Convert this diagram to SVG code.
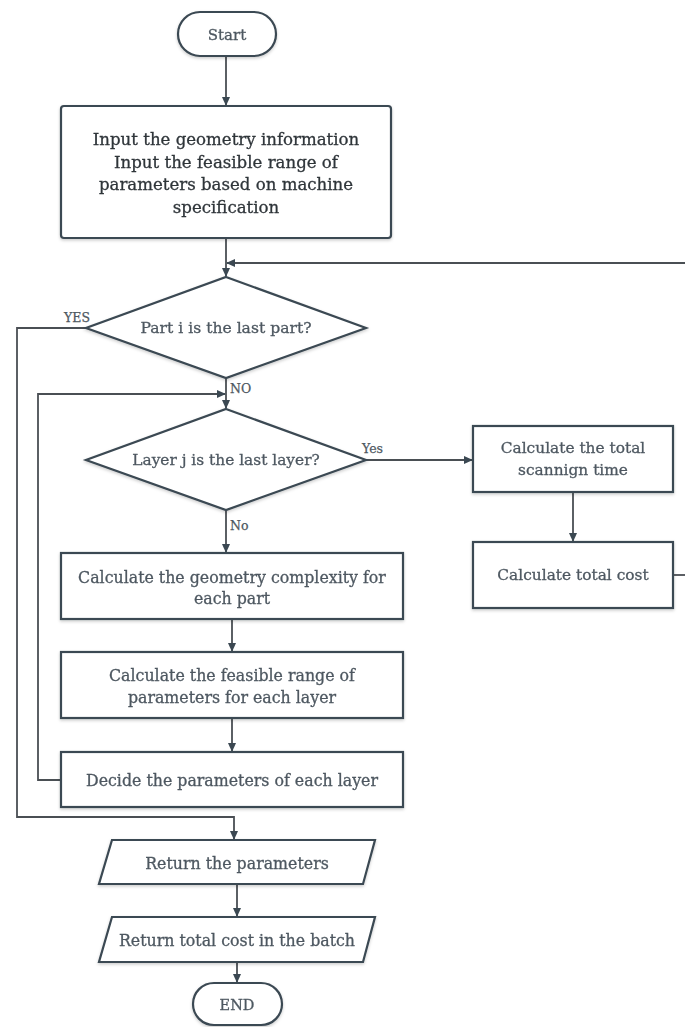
<svg xmlns="http://www.w3.org/2000/svg" width="685" height="1027" viewBox="0 0 685 1027">
<style>
.n{fill:#fff;stroke:#3b4852;stroke-width:2.2}
.t{font-family:"DejaVu Serif","Liberation Serif",serif;fill:#4e5861;stroke:#4e5861;stroke-width:0.3;text-anchor:middle;dominant-baseline:central}
.b{fill:#2f353a;stroke:#2f353a}
.c{fill:none;stroke:#4a4f54;stroke-width:1.8}
.l{font-family:"DejaVu Serif","Liberation Serif",serif;fill:#4e5861;stroke:#4e5861;stroke-width:0.25;font-size:12.5px}
</style>
<defs>
<marker id="ah" viewBox="0 0 10 10" refX="9" refY="5" markerWidth="9" markerHeight="9" orient="auto-start-reverse" markerUnits="userSpaceOnUse"><path d="M0,0.5 L10,5 L0,9.5 z" fill="#3b4852"/></marker>
<filter id="sh" x="-10%" y="-10%" width="120%" height="130%"><feDropShadow dx="0" dy="1.5" stdDeviation="1.5" flood-color="#000" flood-opacity="0.2"/></filter>
</defs>
<rect width="685" height="1027" fill="#fff"/>
<g id="connectors">
<path class="c" d="M226,56 V105" marker-end="url(#ah)"/>
<path class="c" d="M226,238 V276" marker-end="url(#ah)"/>
<path class="c" d="M685,263 H227" marker-end="url(#ah)"/>
<path class="c" d="M226,378 V408" marker-end="url(#ah)"/>
<path class="c" d="M61,780 H38 V394 H225" marker-end="url(#ah)"/>
<path class="c" d="M86,328 H17 V817 H234 V839" marker-end="url(#ah)"/>
<path class="c" d="M366,460 H472" marker-end="url(#ah)"/>
<path class="c" d="M573,492 V541" marker-end="url(#ah)"/>
<path class="c" d="M673,575 H685"/>
<path class="c" d="M226,510 V552" marker-end="url(#ah)"/>
<path class="c" d="M232,619 V651" marker-end="url(#ah)"/>
<path class="c" d="M232,718 V751" marker-end="url(#ah)"/>
<path class="c" d="M237,884 V916" marker-end="url(#ah)"/>
<path class="c" d="M237,962 V982" marker-end="url(#ah)"/>
<text class="l" x="64" y="322">YES</text>
<text class="l" x="230" y="393">NO</text>
<text class="l" x="362" y="453">Yes</text>
<text class="l" x="230" y="530">No</text>
</g>
<g id="start" filter="url(#sh)">
<rect class="n" x="178" y="12" width="98" height="44" rx="22"/>
<text class="t" x="227" y="35" font-size="15">Start</text>
</g>
<g id="input" filter="url(#sh)">
<rect class="n" x="61" y="106" width="330" height="132" rx="3"/>
<text class="t b" x="226" font-size="16.6"><tspan x="226" y="139">Input the geometry information</tspan><tspan x="226" y="162">Input the feasible range of</tspan><tspan x="226" y="184">parameters based on machine</tspan><tspan x="226" y="207">specification</tspan></text>
</g>
<g id="d1" filter="url(#sh)">
<polygon class="n" points="226,277 366,328 226,378 86,328"/>
<text class="t" x="226" y="328" font-size="15.6">Part i is the last part?</text>
</g>
<g id="d2" filter="url(#sh)">
<polygon class="n" points="226,409 366,460 226,510 86,460"/>
<text class="t" x="226" y="460" font-size="15.4">Layer j is the last layer?</text>
</g>
<g id="scan" filter="url(#sh)">
<rect class="n" x="473" y="426" width="200" height="66"/>
<text class="t" font-size="15.4"><tspan x="573" y="448">Calculate the total</tspan><tspan x="573" y="470">scannign time</tspan></text>
</g>
<g id="cost" filter="url(#sh)">
<rect class="n" x="473" y="542" width="200" height="66"/>
<text class="t" x="573" y="575" font-size="15.4">Calculate total cost</text>
</g>
<g id="geom" filter="url(#sh)">
<rect class="n" x="61" y="553" width="342" height="66"/>
<text class="t" font-size="15.8"><tspan x="232" y="577">Calculate the geometry complexity for</tspan><tspan x="232" y="598">each part</tspan></text>
</g>
<g id="range" filter="url(#sh)">
<rect class="n" x="61" y="652" width="342" height="66"/>
<text class="t" font-size="15.8"><tspan x="232" y="675">Calculate the feasible range of</tspan><tspan x="232" y="697">parameters for each layer</tspan></text>
</g>
<g id="decide" filter="url(#sh)">
<rect class="n" x="61" y="752" width="342" height="55"/>
<text class="t" x="232" y="780" font-size="15.8">Decide the parameters of each layer</text>
</g>
<g id="ret1" filter="url(#sh)">
<polygon class="n" points="112,840 375,840 363,884 99,884"/>
<text class="t" x="237" y="863" font-size="15.8">Return the parameters</text>
</g>
<g id="ret2" filter="url(#sh)">
<polygon class="n" points="112,917 375,917 363,962 99,962"/>
<text class="t" x="237" y="940" font-size="15.8">Return total cost in the batch</text>
</g>
<g id="end" filter="url(#sh)">
<rect class="n" x="193" y="983" width="89" height="42" rx="21"/>
<text class="t" x="237" y="1005" font-size="14.5">END</text>
</g>
</svg>
